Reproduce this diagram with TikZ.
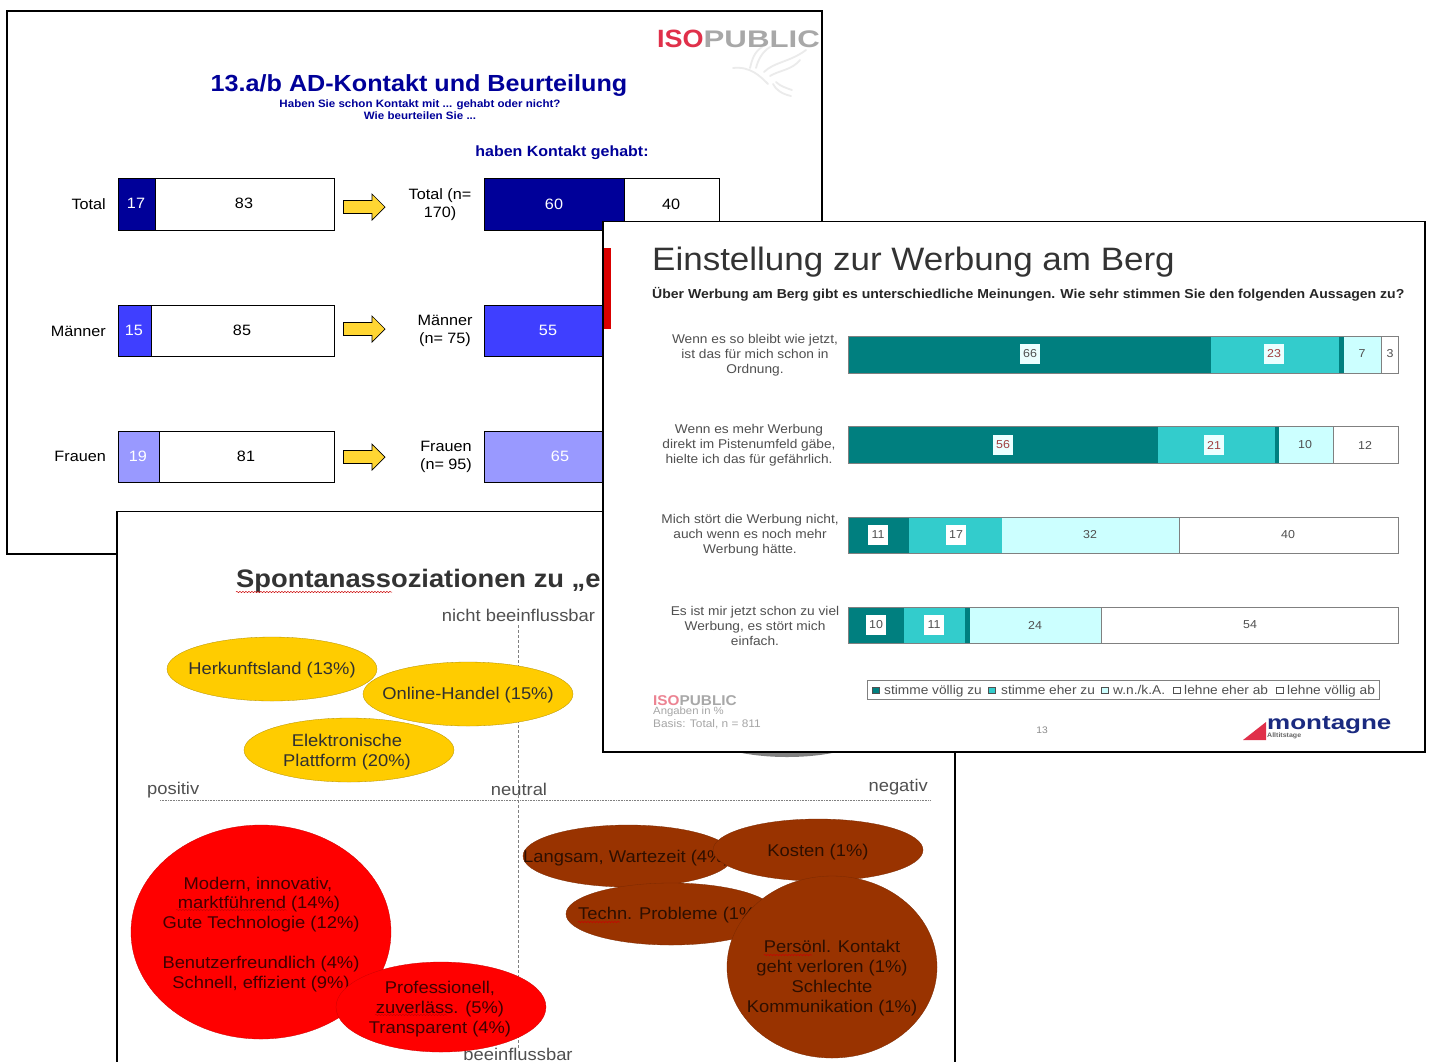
\documentclass[tikz,border=0pt]{standalone}
\usepackage{fontspec}
\setmainfont[FakeStretch=1.08]{Liberation Sans}
\newfontfamily\logofont[FakeStretch=1.3]{Liberation Sans}
\usetikzlibrary{decorations.pathmorphing}
\newcommand\fz[2]{\fontsize{#1}{#2}\selectfont}
\definecolor{navy1}{HTML}{000099}
\definecolor{blue2}{HTML}{3F3FFF}
\definecolor{blue3}{HTML}{9999FF}
\definecolor{arrowy}{HTML}{FFD633}
\definecolor{yell}{HTML}{FFCC00}
\definecolor{brn}{HTML}{993300}
\definecolor{teal1}{HTML}{007F7F}
\definecolor{teal2}{HTML}{33CCCC}
\definecolor{teal3}{HTML}{CCFFFF}
\definecolor{isored}{HTML}{E0304A}
\definecolor{isogray}{HTML}{A8A8A8}
\definecolor{txtg}{HTML}{505050}
\definecolor{numred}{HTML}{A04040}
\definecolor{mblue}{HTML}{1A2A80}
\tikzset{
  x=1pt,y=-1pt,
  slide/.style={draw=black,line width=1.8pt,fill=white},
  seg/.style={draw=black,line width=.6pt,fill=#1},
  tl/.style={inner sep=0pt,font=\fz{15}{18},align=center,text=black},
  barnum/.style={inner sep=0pt,font=\fz{15}{18}},
  yellipse/.style={draw=yell!70!black,line width=.3pt,fill=yell},
  rellipse/.style={draw=red!80!black,line width=.3pt,fill=red},
  bellipse/.style={draw=brn!80!black,line width=.3pt,fill=brn},
  bubtxt/.style={inner sep=0pt,align=center,font=\fz{17}{20},text=#1},
  bubtxt/.default=black!85,
  axlab/.style={inner sep=0pt,font=\fz{17}{20},text=txtg},
  wavy/.style={draw=red!80!black,line width=.5pt,decorate,decoration={snake,amplitude=.6,segment length=3}},
  tframe/.style={draw=gray,line width=1pt},
  tnum/.style={inner sep=0pt,font=\fz{11.5}{14},text=txtg},
  tbox/.style={tnum,fill=#1,minimum width=20pt,minimum height=20pt},
  tlab/.style={inner sep=0pt,align=center,font=\fz{12.7}{15},text=txtg},
  legtxt/.style={inner sep=0pt,font=\fz{12.7}{13},text=txtg,anchor=base west},
  legbox/.style={draw=txtg,line width=.5pt,fill=#1},
  yarrow/.style={draw=black,line width=.7pt,fill=arrowy},
  dove/.style={draw=black!8,line width=1.8pt,line cap=round}
}
\begin{document}
\begin{tikzpicture}
\useasboundingbox (0,0) rectangle (1431,1061);
\fill[white] (0,0) rectangle (1431,1061);

% ---- slide 1
\draw[slide] (7,11) rectangle (822,554);
\draw[dove] (733,68) .. controls (750,66) and (760,76) .. (768,84);
\draw[dove] (750,68) .. controls (752,60) and (754,52) .. (762,47);
\draw[dove] (756,68) .. controls (758,60) and (762,52) .. (770,47);
\draw[dove] (764,72) .. controls (774,62) and (790,62) .. (806,50);
\draw[dove] (770,76) .. controls (780,70) and (792,70) .. (800,60);
\draw[dove] (773,84) .. controls (776,90) and (782,94) .. (791,96);
\draw[dove] (776,82) .. controls (780,86) and (786,88) .. (792,90);
\node[inner sep=0pt,anchor=base east] (logo) at (820,47) {\fz{25}{28}\bfseries\textcolor{isored}{ISO}\logofont\fz{24}{28}\bfseries\textcolor{isogray}{PUBLIC}};
\node[inner sep=0pt,text=navy1,font=\fz{23.3}{28}\bfseries] (t1) at (419,85.5) {13.a/b AD-Kontakt und Beurteilung};
\node[inner sep=0pt,text=navy1,font=\fz{10.7}{12}\bfseries,align=center] (t1b) at (420,110) {Haben Sie schon Kontakt mit ...  gehabt oder nicht?\\Wie beurteilen Sie ...};
\node[inner sep=0pt,text=navy1,font=\fz{14.8}{17}\bfseries] (t1c) at (562,152.5) {haben Kontakt gehabt:};

\node[tl,anchor=east] (lt) at (106,204) {Total};
\node[tl,anchor=east] (lm) at (106,331) {Männer};
\node[tl,anchor=east] (lf) at (106,456) {Frauen};

\draw[seg=navy1] (118,178.5) rectangle (155,230);
\draw[seg=white] (155,178.5) rectangle (334,230);
\node[barnum,text=white] (n17) at (136,203) {17};
\node[barnum] (n83) at (244,203) {83};
\draw[seg=blue2] (118,305) rectangle (151,356);
\draw[seg=white] (151,305) rectangle (334,356);
\node[barnum,text=white] (n15) at (134,330) {15};
\node[barnum] (n85) at (242,330) {85};
\draw[seg=blue3] (118,431) rectangle (159,482);
\draw[seg=white] (159,431) rectangle (334,482);
\node[barnum,text=white] (n19) at (138,456) {19};
\node[barnum] (n81) at (246,456) {81};

\foreach \yy in {207,329,457}{
\draw[yarrow] (343.5,\yy-6.5) -- (372,\yy-6.5) -- (372,\yy-13) -- (385,\yy) -- (372,\yy+13) -- (372,\yy+6.5) -- (343.5,\yy+6.5) -- cycle;
}
\node[tl] (rt) at (440,204.5) {Total (n=\\170)};
\node[tl] (rm) at (445,331) {Männer\\(n= 75)};
\node[tl] (rf) at (446,456.5) {Frauen\\(n= 95)};

\draw[seg=navy1] (484,178.5) rectangle (624,230);
\draw[seg=white] (624,178.5) rectangle (719,230);
\node[barnum,text=white] (n60) at (554,204) {60};
\node[barnum] (n40) at (671,204) {40};
\draw[seg=blue2] (484,305) rectangle (613,356);
\node[barnum,text=white] (n55) at (548,330) {55};
\draw[seg=blue3] (484,431) rectangle (636,482);
\node[barnum,text=white] (n65) at (560,456) {65};

% ---- slide 2
\draw[slide] (117,511.5) rectangle (955,1075);
\node[inner sep=0pt,anchor=west,text=black!80,font=\fz{25.3}{30}\bfseries] (t2) at (236,580.5) {Spontanassoziationen zu „e};
\draw[wavy] (236,592) -- (392,592);
\draw[gray,line width=.5pt,densely dashed] (518,625) -- (518,1048);
\draw[gray,line width=.6pt,densely dotted] (160,800) -- (930,800);
\node[axlab] (nb) at (518.5,615) {nicht beeinflussbar};
\node[axlab,anchor=west] (ap) at (147,790) {positiv};
\node[axlab] (an) at (519,789.5) {neutral};
\node[axlab,anchor=east] (ang) at (928,787.5) {negativ};
\node[axlab,anchor=base] (bb) at (518,1060) {beeinflussbar};

% yellow
\path[yellipse] (272,669) ellipse [x radius=105,y radius=32];
\node[bubtxt=txtg!60!black] (h1) at (272,670.5) {Herkunftsland (13\%)};
\path[yellipse] (468,694) ellipse [x radius=105,y radius=32];
\node[bubtxt=txtg!60!black] (h2) at (468,695.5) {Online-Handel (15\%)};
\path[yellipse] (349,750) ellipse [x radius=105,y radius=32];
\node[bubtxt=txtg!60!black] (h3) at (347,752) {Elektronische\\Plattform (20\%)};
\fill[gray] (787,720) ellipse [x radius=100,y radius=37];

% red
\path[rellipse] (261,932) ellipse [x radius=130,y radius=107];
\node[bubtxt=red!25!black] (r1) at (258,884) {Modern, innovativ,};
\node[bubtxt=red!25!black] (r2) at (259,904) {marktführend (14\%)};
\node[bubtxt=red!25!black] (r3) at (261,924) {Gute Technologie (12\%)};
\node[bubtxt=red!25!black] (r4) at (261,964) {Benutzerfreundlich (4\%)};
\node[bubtxt=red!25!black] (r5) at (261,984) {Schnell, effizient (9\%)};
\draw[wavy] (176,910) -- (287,910);
\path[rellipse] (441,1007) ellipse [x radius=105,y radius=45];
\node[bubtxt=red!25!black] (r6) at (440,1009) {Professionell,\\zuverläss. (5\%)\\Transparent (4\%)};
\draw[wavy] (375,1015) -- (447,1015);

% brown
\path[bellipse] (628,856) ellipse [x radius=105,y radius=31];
\node[bubtxt=brn!30!black,anchor=west] (b1) at (523,858.5) {Langsam, Wartezeit (4\%)};
\path[bellipse] (818,850) ellipse [x radius=105,y radius=31];
\node[bubtxt=brn!30!black] (b2) at (818,852.5) {Kosten (1\%)};
\path[bellipse] (671,914) ellipse [x radius=105,y radius=31];
\node[bubtxt=brn!30!black,anchor=west] (b3) at (578,915.5) {Techn. Probleme (1\%)};
\draw[wavy] (578,922) -- (620,922);
\path[bellipse] (832,967) ellipse [x radius=105,y radius=91];
\node[bubtxt=brn!30!black] (b4) at (832,978.5) {Persönl. Kontakt\\geht verloren (1\%)\\Schlechte\\Kommunikation (1\%)};
\draw[wavy] (764,955) -- (812,955);

% ---- slide 3
\draw[slide] (603,221.5) rectangle (1425,752);
\fill[red!85!black] (604,248) rectangle (611,329);
\node[inner sep=0pt,anchor=west,text=black!80,font=\fz{32.4}{38}] (t3) at (652,262) {Einstellung zur Werbung am Berg};
\node[inner sep=0pt,anchor=west,text=black!85,font=\fz{13}{15}\bfseries] (t3b) at (652,294) {Über Werbung am Berg gibt es unterschiedliche Meinungen. Wie sehr stimmen Sie den folgenden Aussagen zu?};

\node[tlab] (q1) at (755,355.5) {Wenn es so bleibt wie jetzt,\\ist das für mich schon in\\Ordnung.};
\node[tlab] (q2) at (749,445.5) {Wenn es mehr Werbung\\direkt im Pistenumfeld gäbe,\\hielte ich das für gefährlich.};
\node[tlab] (q3) at (750,535.5) {Mich stört die Werbung nicht,\\auch wenn es noch mehr\\Werbung hätte.};
\node[tlab] (q4) at (755,625.5) {Es ist mir jetzt schon zu viel\\Werbung, es stört mich\\einfach.};

% row 1
\fill[teal1] (848,336) rectangle (1211,373);
\fill[teal2] (1211,336) rectangle (1339,373);
\fill[teal1] (1339,336) rectangle (1344,373);
\fill[teal3] (1344,336) rectangle (1381,373);
\draw[tframe] (848,336) rectangle (1398,373);
\draw[tframe] (1381,336) -- (1381,373);
\node[tbox=teal3!40,text=txtg] (v1a) at (1030,354) {66};
\node[tbox=teal3!40,text=numred] (v1b) at (1274,354) {23};
\node[tnum] (v1c) at (1362,354) {7};
\node[tnum] (v1d) at (1390,354) {3};
% row 2
\fill[teal1] (848,426) rectangle (1158,463);
\fill[teal2] (1158,426) rectangle (1275,463);
\fill[teal1] (1275,426) rectangle (1279,463);
\fill[teal3] (1279,426) rectangle (1333,463);
\draw[tframe] (848,426) rectangle (1398,463);
\draw[tframe] (1333,426) -- (1333,463);
\node[tbox=teal3!40,text=numred] (v2a) at (1003,445) {56};
\node[tbox=teal3!40,text=numred] (v2b) at (1214,445) {21};
\node[tnum] (v2c) at (1305,445) {10};
\node[tnum] (v2d) at (1365,445) {12};
% row 3
\fill[teal1] (848,517) rectangle (909,553);
\fill[teal2] (909,517) rectangle (1002,553);
\fill[teal3] (1002,517) rectangle (1179,553);
\draw[tframe] (848,517) rectangle (1398,553);
\draw[tframe] (1179,517) -- (1179,553);
\node[tbox=white] (v3a) at (878,535) {11};
\node[tbox=white] (v3b) at (956,535) {17};
\node[tnum] (v3c) at (1090,535) {32};
\node[tnum] (v3d) at (1288,535) {40};
% row 4
\fill[teal1] (848,607) rectangle (904,643);
\fill[teal2] (904,607) rectangle (965,643);
\fill[teal1] (965,607) rectangle (970,643);
\fill[teal3] (970,607) rectangle (1101,643);
\draw[tframe] (848,607) rectangle (1398,643);
\draw[tframe] (1101,607) -- (1101,643);
\node[tbox=white] (v4a) at (876,625) {10};
\node[tbox=white] (v4b) at (934,625) {11};
\node[tnum] (v4c) at (1035,625) {24};
\node[tnum] (v4d) at (1250,625) {54};

% legend
\draw[gray,line width=1pt] (867,680) rectangle (1379,699);
\path[legbox=teal1] (872,687) rectangle (879,693);
\node[legtxt] (lg1) at (884,694.5) {stimme völlig zu};
\path[legbox=teal2] (988,687) rectangle (995,693);
\node[legtxt] (lg2) at (1001,694.5) {stimme eher zu};
\path[legbox=teal3] (1101,687) rectangle (1108,693);
\node[legtxt] (lg3) at (1113,694.5) {w.n./k.A.};
\path[legbox=white] (1173,687) rectangle (1180,693);
\node[legtxt] (lg4) at (1184,694.5) {lehne eher ab};
\path[legbox=white] (1276,687) rectangle (1283,693);
\node[legtxt] (lg5) at (1287,694.5) {lehne völlig ab};

% footer
\node[inner sep=0pt,anchor=west,font=\fz{14.2}{16}\bfseries] (iso2) at (653,701) {\textcolor{isored!60}{ISO}\textcolor{isogray}{PUBLIC}};
\node[inner sep=0pt,anchor=west,font=\fz{10.5}{11},text=black!35] (f1) at (653,712) {Angaben in \%};
\node[inner sep=0pt,anchor=west,font=\fz{11}{11},text=black!35] (f2) at (653,724) {Basis: Total, n = 811};
\node[inner sep=0pt,font=\fz{9.5}{11},text=black!45] (pg) at (1042,730) {13};
\fill[isored] (1243,740) -- (1266,722) -- (1266,740) -- cycle;
\node[inner sep=0pt,anchor=west,text=mblue,font=\logofont\fz{20}{22}\bfseries] (mt) at (1267,725.5) {montagne};
\node[inner sep=0pt,anchor=west,text=black!60,font=\fz{6.5}{8}\bfseries] (mt2) at (1267,736) {Alltitstage};
\end{tikzpicture}
\end{document}
